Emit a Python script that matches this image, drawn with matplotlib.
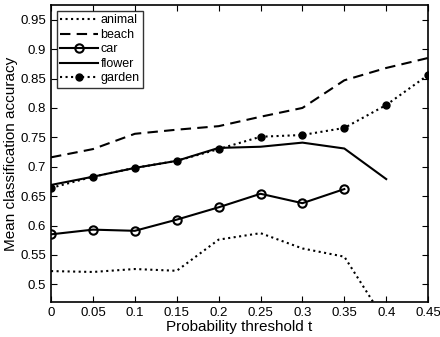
import numpy as np
import matplotlib
matplotlib.use("Agg")
import matplotlib.pyplot as plt

plt.rcParams['font.family'] = ['Liberation Sans', 'DejaVu Sans']

t = [0, 0.05, 0.1, 0.15, 0.2, 0.25, 0.3, 0.35, 0.4, 0.45]
animal = [0.5225, 0.521, 0.526, 0.523, 0.576, 0.587, 0.561, 0.547, 0.435]
beach = [0.716, 0.730, 0.756, 0.763, 0.769, 0.785, 0.800, 0.847, 0.868, 0.885]
car = [0.585, 0.593, 0.591, 0.610, 0.631, 0.654, 0.638, 0.662]
flower = [0.669, 0.683, 0.698, 0.710, 0.732, 0.734, 0.741, 0.731, 0.679]
garden = [0.664, 0.683, 0.698, 0.710, 0.730, 0.751, 0.754, 0.766, 0.805, 0.856]

fig = plt.figure(figsize=(4.4, 3.37), dpi=100)
ax = fig.add_axes([0.116, 0.104, 0.857, 0.881])

ax.plot(t[:len(animal)], animal, 'k:', lw=1.5, label='animal')
ax.plot(t[:len(beach)], beach, 'k--', lw=1.5, dashes=(5, 3), label='beach')
ax.plot(t[:len(car)], car, 'k-', lw=1.5, marker='o', ms=6, mfc='none', mew=1.5, label='car')
ax.plot(t[:len(flower)], flower, 'k-', lw=1.5, label='flower')
ax.plot(t[:len(garden)], garden, 'k:', lw=1.5, marker='o', ms=5, label='garden')

ax.set_xlim(0, 0.45)
ax.set_ylim(0.47, 0.975)
ax.set_xticks(t)
ax.set_xticklabels(['0', '0.05', '0.1', '0.15', '0.2', '0.25', '0.3', '0.35', '0.4', '0.45'])
yt = [0.5, 0.55, 0.6, 0.65, 0.7, 0.75, 0.8, 0.85, 0.9, 0.95]
ax.set_yticks(yt)
ax.set_yticklabels(['0.5', '0.55', '0.6', '0.65', '0.7', '0.75', '0.8', '0.85', '0.9', '0.95'])
ax.tick_params(direction='in', top=True, right=True, labelsize=9.5, length=4)
for s in ax.spines.values():
    s.set_linewidth(1.2)

ax.set_xlabel('Probability threshold t', fontsize=11, labelpad=1)
ax.set_ylabel('Mean classification accuracy', fontsize=11, labelpad=2)

leg = ax.legend(loc='upper left', fontsize=9, handlelength=3.0, handletextpad=0.2,
                borderaxespad=0.45, labelspacing=0.2, borderpad=0.3, fancybox=False)
leg.get_frame().set_edgecolor('black')
leg.get_frame().set_linewidth(1.0)

fig.savefig('out.png', dpi=100)
